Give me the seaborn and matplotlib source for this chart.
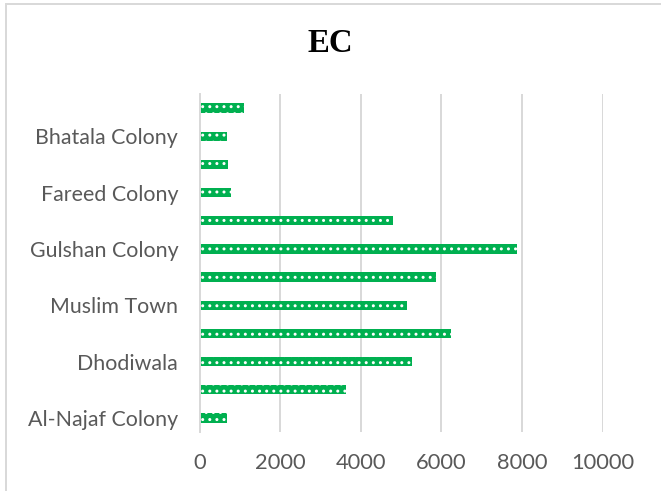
import matplotlib
matplotlib.use("Agg")
import matplotlib.pyplot as plt
from matplotlib.patches import Rectangle
import seaborn as sns
import pandas as pd

# Sites listed bottom to top; only every other site name is shown on the axis
sites = ["Al-Najaf Colony", "", "Dhodiwala", "", "Muslim Town", "",
         "Gulshan Colony", "", "Fareed Colony", "", "Bhatala Colony", ""]
ec_values = [680, 3640, 5275, 6240, 5160, 5860, 7870, 4800, 780, 710, 680, 1110]
x_ticks = [0, 2000, 4000, 6000, 8000, 10000]

positions = list(range(len(sites)))
df = pd.DataFrame({"pos": positions, "EC": ec_values})

DPI = 128
sns.set_style("white")
plt.rcParams["font.family"] = ["Lato", "DejaVu Sans"]
plt.rcParams["hatch.linewidth"] = 0.9

fig = plt.figure(figsize=(661 / DPI, 491 / DPI), dpi=DPI)
ax = fig.add_axes([199.5 / 661, 1 - 432 / 491, 403 / 661, 338 / 491])

sns.barplot(data=df, x="EC", y="pos", orient="h", native_scale=True,
            width=0.33, color="#00B050", saturation=1,
            edgecolor="white", linewidth=0, hatch="...", ax=ax)

ax.set_xlim(0, 10000)
ax.set_ylim(-0.5, len(sites) - 0.5)
ax.set_xticks(x_ticks)
ax.set_xticklabels([str(t) for t in x_ticks])
ax.set_yticks(positions[::2])
ax.set_yticklabels(sites[::2])
ax.set_xlabel("")
ax.set_ylabel("")

ax.grid(axis="x", color="#D9D9D9", linewidth=1.1)
ax.grid(axis="y", visible=False)
ax.set_axisbelow(True)
for side in ["top", "right", "bottom"]:
    ax.spines[side].set_visible(False)
ax.spines["left"].set_color("#D9D9D9")
ax.spines["left"].set_linewidth(1.1)

ax.tick_params(axis="both", length=0, labelcolor="#595959")
ax.tick_params(axis="y", pad=12, labelsize=12)
ax.tick_params(axis="x", pad=12, labelsize=12.3)

fig.text(0.5, 1 - 44 / 491, "EC", ha="center", va="center",
         fontsize=18.5, fontweight="bold", family=["Liberation Serif"], color="black")

# Chart area border
fig.add_artist(Rectangle((6 / 661, -0.05), 1.0, 1 - 4 / 491 + 0.05,
                         transform=fig.transFigure, fill=False,
                         edgecolor="#D9D9D9", linewidth=1.1))

fig.savefig("out.png", dpi=DPI, facecolor="white")
